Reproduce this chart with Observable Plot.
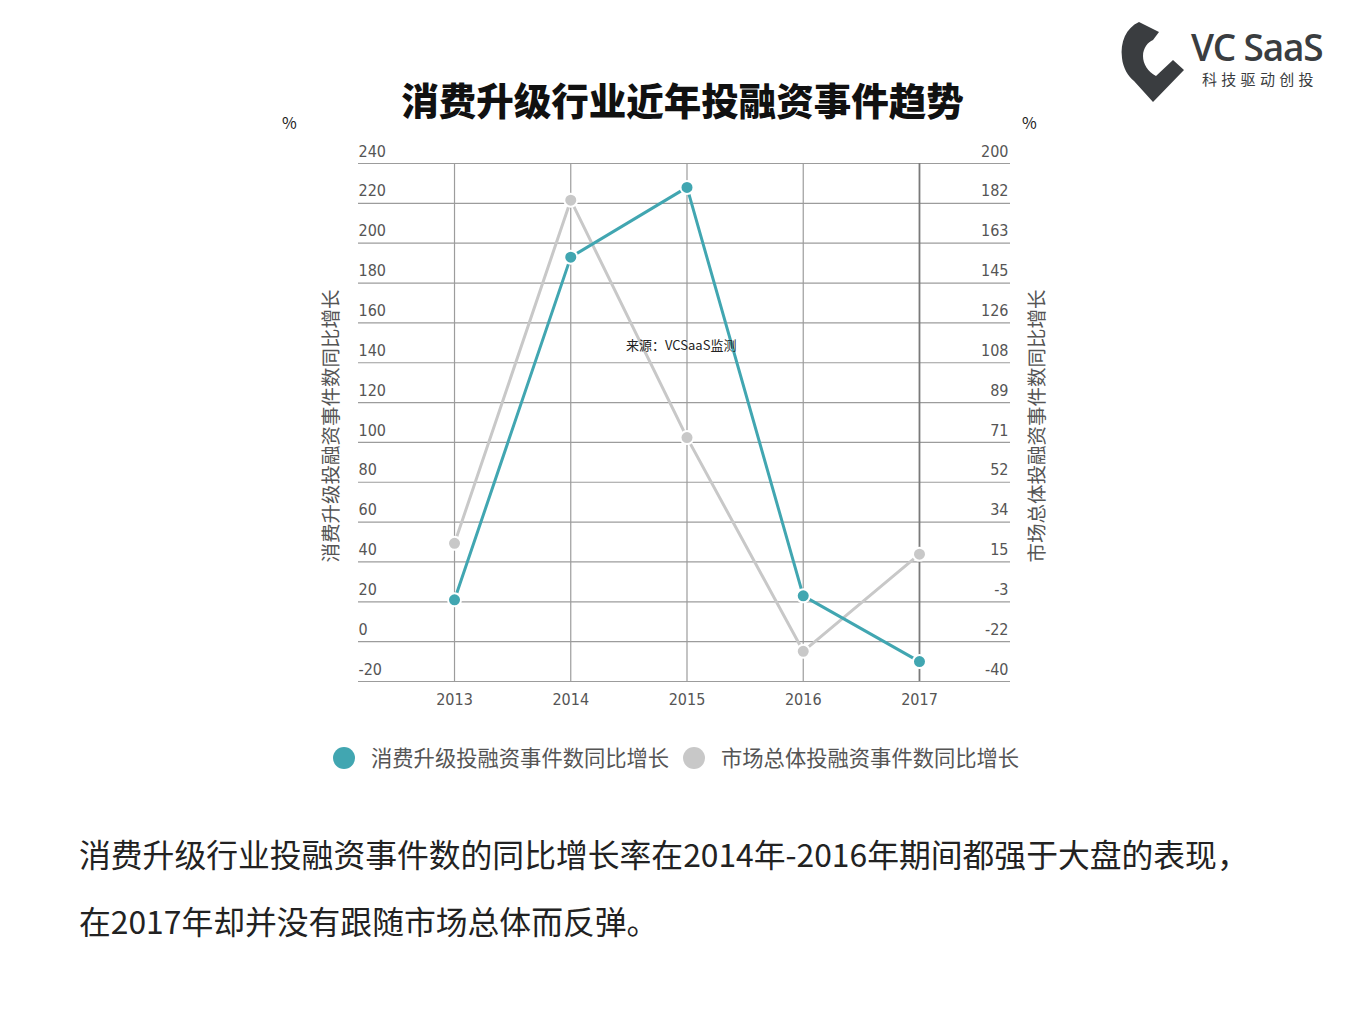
<!DOCTYPE html>
<html>
<head>
<meta charset="utf-8">
<script src="https://cdn.jsdelivr.net/npm/d3@7"></script>
<script src="https://cdn.jsdelivr.net/npm/@observablehq/plot@0.6"></script>
<style>
  html, body { margin:0; padding:0; background:#fff; }
  #page { position:relative; width:1365px; height:1023px; overflow:hidden; background:#fff;
          font-family:"Noto Sans CJK SC","Noto Sans",sans-serif; }
  .abs { position:absolute; white-space:nowrap; }
  #chart { position:absolute; left:0; top:0; }
  #chart svg { overflow:visible; }
</style>
</head>
<body>
<div id="page">
  <div id="chart"></div>

  <!-- logo -->
  <svg class="abs" style="left:1118px;top:18px" width="72" height="90" viewBox="0 0 72 90">
    <path d="M21 4 C 8 10, 2 24, 4 40 C 5 50, 10 58, 16 63 L 35 84 L 66 52 L 55 42 L 38 58 C 30 54, 25 46, 25 38 C 25 30, 30 24, 35 22 L 41 14 Z" fill="#3a3d40"/>
  </svg>
  <div class="abs" style="left:1191px;top:29px;font-family:'Open Sans',Lato,sans-serif;font-weight:600;font-size:37px;letter-spacing:-1.2px;color:#3a3d40;line-height:36px">VC SaaS</div>
  <div class="abs" style="left:1202px;top:69px;font-size:15px;letter-spacing:4.3px;color:#3a3d40;line-height:20px">科技驱动创投</div>

  <!-- title -->
  <div class="abs" style="left:0;width:1365px;text-align:center;top:73px;font-size:37.5px;font-weight:900;color:#111;line-height:52px;">消费升级行业近年投融资事件趋势</div>

  <div class="abs" style="left:282px;top:111px;font-size:16px;color:#222;line-height:22px">%</div>
  <div class="abs" style="left:1022px;top:111px;font-size:16px;color:#222;line-height:22px">%</div>

  <!-- axis titles -->
  <div class="abs" id="ylabL" style="left:330px;top:426px;transform:translate(-50%,-50%) rotate(-90deg);font-size:19.5px;color:#555;line-height:24px"></div>
  <div class="abs" id="ylabR" style="left:1036px;top:426px;transform:translate(-50%,-50%) rotate(-90deg);font-size:19.5px;color:#555;line-height:24px"></div>

  <!-- source -->
  <div class="abs" id="source" style="left:626px;top:336px;font-size:13px;color:#222;line-height:18px"></div>

  <!-- legend -->
  <div class="abs" id="legDot1" style="left:333px;top:747px;width:22px;height:22px;border-radius:50%;background:#41a6b1"></div>
  <div class="abs" id="legTxt1" style="left:371px;top:743px;font-size:21.3px;color:#555;line-height:28px"></div>
  <div class="abs" id="legDot2" style="left:683px;top:747px;width:22px;height:22px;border-radius:50%;background:#c8c8c8"></div>
  <div class="abs" id="legTxt2" style="left:721px;top:743px;font-size:21.3px;color:#555;line-height:28px"></div>

  <!-- caption -->
  <div class="abs" style="left:79px;top:820px;font-size:31.8px;color:#222;line-height:67px;white-space:normal;width:1280px">
    消费升级行业投融资事件数的同比增长率在2014年-2016年期间都强于大盘的表现，<br>在2017年却并没有跟随市场总体而反弹。
  </div>
</div>

<script>
// ---- data ----
const years = [2013, 2014, 2015, 2016, 2017];
const consumerGrowth = [21, 193, 228, 23, -10];       // left axis, %
const marketGrowth = [24, 183, 73, -26, 19];          // right axis, %
const leftTicks = [-20, 0, 20, 40, 60, 80, 100, 120, 140, 160, 180, 200, 220, 240];
const rightTickLabels = ["-40", "-22", "-3", "15", "34", "52", "71", "89", "108", "126", "145", "163", "182", "200"];
const leftDomain = [-20, 240];
const rightDomain = [-40, 200];
const seriesNames = ["消费升级投融资事件数同比增长", "市场总体投融资事件数同比增长"];
const sourceText = "来源：VCSaaS监测";

const teal = "#41a6b1";
const grey = "#c8c8c8";

// map right-axis values onto the left scale
const toLeft = v => leftDomain[0] + (v - rightDomain[0]) * (leftDomain[1] - leftDomain[0]) / (rightDomain[1] - rightDomain[0]);
const rightLabelFor = new Map(leftTicks.map((t, i) => [t, rightTickLabels[i]]));

const consumerRows = years.map((y, i) => ({year: y, v: consumerGrowth[i]}));
const marketRows = years.map((y, i) => ({year: y, v: toLeft(marketGrowth[i])}));

document.getElementById("ylabL").textContent = seriesNames[0];
document.getElementById("ylabR").textContent = seriesNames[1];
document.getElementById("legTxt1").textContent = seriesNames[0];
document.getElementById("legTxt2").textContent = seriesNames[1];
document.getElementById("source").textContent = sourceText;

const gridColor = "#9c9c9c";
const chart = Plot.plot({
  width: 1365,
  height: 720,
  marginLeft: 358,
  marginRight: 355,
  marginTop: 163,
  marginBottom: 39,
  x: {domain: [2012.174, 2017.783], label: null},
  y: {domain: leftDomain, label: null},
  style: {
    fontFamily: "'Liberation Sans Narrow','DejaVu Sans Condensed',sans-serif",
    fontSize: "16px",
    color: "#555",
    background: "transparent"
  },
  marks: [
    Plot.gridY(leftTicks, {stroke: gridColor, strokeOpacity: 1, strokeWidth: 1.2}),
    Plot.gridX(years.filter(d => d !== 2017), {stroke: gridColor, strokeOpacity: 1, strokeWidth: 1.2}),
    Plot.gridX([2017], {stroke: "#7a7a7a", strokeOpacity: 1, strokeWidth: 1.8}),
    Plot.axisY(leftTicks, {anchor: "left", tickSize: 0, tickPadding: 0, textAnchor: "start", dy: -12, label: null, tickFormat: d => String(d)}),
    Plot.axisY(leftTicks, {anchor: "right", tickSize: 0, tickPadding: -2, textAnchor: "end", dy: -12, label: null, tickFormat: d => rightLabelFor.get(d)}),
    Plot.axisX(years, {anchor: "bottom", tickSize: 0, tickPadding: 12, label: null, tickFormat: d => String(d)}),
    Plot.line(marketRows, {x: "year", y: "v", stroke: grey, strokeWidth: 3}),
    Plot.line(consumerRows, {x: "year", y: "v", stroke: teal, strokeWidth: 3}),
    Plot.dot(marketRows, {x: "year", y: "v", fill: grey, stroke: "white", strokeWidth: 2, r: 6.5}),
    Plot.dot(consumerRows, {x: "year", y: "v", fill: teal, stroke: "white", strokeWidth: 2, r: 6.5})
  ]
});
document.getElementById("chart").appendChild(chart);
</script>
</body>
</html>
